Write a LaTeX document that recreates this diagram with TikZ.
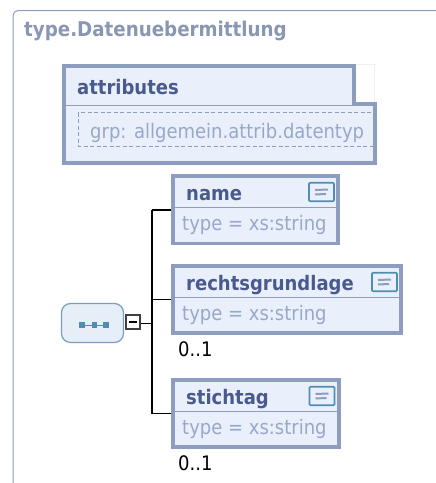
\documentclass[tikz,border=0pt]{standalone}
\usepackage{fontspec}
\setmainfont{DejaVu Sans Condensed}
\definecolor{frameblue}{HTML}{8C9DC0}
\definecolor{boxfill}{HTML}{E9F0FB}
\definecolor{titleblue}{HTML}{4A5A8E}
\definecolor{paleblue}{HTML}{99A8C8}
\definecolor{seqline}{HTML}{7C9DBF}
\definecolor{seqfill}{HTML}{E6EEF7}
\definecolor{iconblue}{HTML}{4F8DB5}
\tikzstyle{elembox}=[draw=frameblue,fill=boxfill,line width=3.8pt,minimum height=67.5pt,inner sep=0pt]
\tikzstyle{divider}=[draw=frameblue,line width=1.2pt]
\tikzstyle{elemname}=[anchor=base west,inner sep=0pt,text=titleblue,font=\fontsize{20}{20}\selectfont\bfseries]
\tikzstyle{elemtype}=[anchor=base west,inner sep=0pt,text=paleblue,font=\fontsize{20}{20}\selectfont]
\tikzstyle{occurs}=[anchor=base west,inner sep=0pt,text=black,font=\fontsize{20}{20}\selectfont]
\tikzstyle{noteicon}=[draw=iconblue,fill=boxfill,line width=1.6pt,minimum width=25pt,minimum height=18.5pt,inner sep=0pt,rounded corners=1pt]
\tikzstyle{noteline}=[draw=frameblue,line width=2pt]
\tikzstyle{seqdot}=[fill=iconblue,minimum size=5.5pt,inner sep=0pt]
\tikzstyle{wire}=[draw=black,line width=1.5pt]
\begin{document}
\begin{tikzpicture}[x=1pt,y=-1pt]
\useasboundingbox (0,0) rectangle (436,483);
\fill[white] (0,0) rectangle (436,483);
\draw[frameblue,line width=1pt,rounded corners=5pt] (13,483) -- (13,10.5) -- (436,10.5);
\node[anchor=base west,inner sep=0pt,text=paleblue!90!black,font=\fontsize{20.3}{20}\selectfont\bfseries] (title) at (24,36.5) {type.Datenuebermittlung};

\draw[black!6,line width=0.7pt] (356,64.5) -- (377,64.5);
\draw[black!6,line width=0.7pt] (374,65) -- (374,102);
\fill[boxfill] (62,64) -- (356,64) -- (356,104) -- (377,104) -- (377,165) -- (62,165) -- cycle;
\draw[frameblue,line width=3.8pt] (63.9,65.9) -- (354.1,65.9) -- (354.1,104) -- (375.1,104) -- (375.1,163.1) -- (63.9,163.1) -- cycle;
\draw[divider] (64,105.5) -- (354,105.5);
\node[elemname] (attrib) at (77,94) {attributes};
\draw[draw=frameblue,line width=1pt,dash pattern=on 4pt off 2.5pt] (78,112.5) rectangle (373,146);
\node[elemtype] (grp) at (90,138) {grp: allgemein.attrib.datentyp};

\node[elembox,minimum width=165.5pt] (name) at (255.5,209.75) {};
\draw[divider] (173,207.5) -- (338,207.5);
\node[elemname] (nametext) at (186,200) {name};
\node[elemtype] (nametype) at (182,230) {type = xs:string};
\node[noteicon] (namenote) at (321.5,192) {};
\draw[noteline] (315,190) -- (328,189.5);
\draw[noteline] (315,194.5) -- (326,194);

\node[elembox,minimum width=228.5pt] (rechts) at (287,299.5) {};
\draw[divider] (173,297.5) -- (401,297.5);
\node[elemname] (rechtstext) at (186,290) {rechtsgrundlage};
\node[elemtype] (rechtstype) at (182,320) {type = xs:string};
\node[noteicon] (rechtsnote) at (384.5,282) {};
\draw[noteline] (378,280) -- (391,279.5);
\draw[noteline] (378,284.5) -- (389,284);
\node[occurs] (rechtsocc) at (178,356) {0..1};

\node[elembox,minimum width=166.5pt] (stichtag) at (256,413.5) {};
\draw[divider] (173,411.5) -- (339,411.5);
\node[elemname] (stichtext) at (186,404) {stichtag};
\node[elemtype] (stichtype) at (182,434) {type = xs:string};
\node[noteicon] (stichnote) at (322,396) {};
\draw[noteline] (315.5,394) -- (328.5,393.5);
\draw[noteline] (315.5,398.5) -- (326.5,398);
\node[occurs] (stichocc) at (178,470) {0..1};

\node[draw=seqline,fill=seqfill,line width=1.2pt,rounded corners=9pt,minimum width=62pt,minimum height=39pt,inner sep=0pt] (seq) at (92.5,323) {};
\node[seqdot] (dot1) at (82,325) {};
\node[seqdot] (dot2) at (94.5,325) {};
\node[seqdot] (dot3) at (106,325) {};
\draw[iconblue,line width=0.8pt] (dot1) -- (dot2);
\draw[iconblue,line width=0.8pt] (dot2) -- (dot3);
\node[draw=black!75,fill=white,line width=1.8pt,minimum width=14pt,minimum height=14pt,inner sep=0pt] (minus) at (133,322) {};
\draw[black,line width=2pt] (129,322) -- (137,322);

\coordinate (spine) at (152,323.5);
\coordinate (spinetop) at (152,209.75);
\coordinate (spinebot) at (152,413.5);
\draw[wire] (minus.east |- spine) -- (spine);
\draw[wire] (spinetop) -- (spinebot);
\draw[wire] (spinetop) -- (name);
\draw[draw=black,line width=1pt] (spinetop |- rechts) -- (rechts);
\draw[wire] (spinebot) -- (stichtag);
\end{tikzpicture}
\end{document}
